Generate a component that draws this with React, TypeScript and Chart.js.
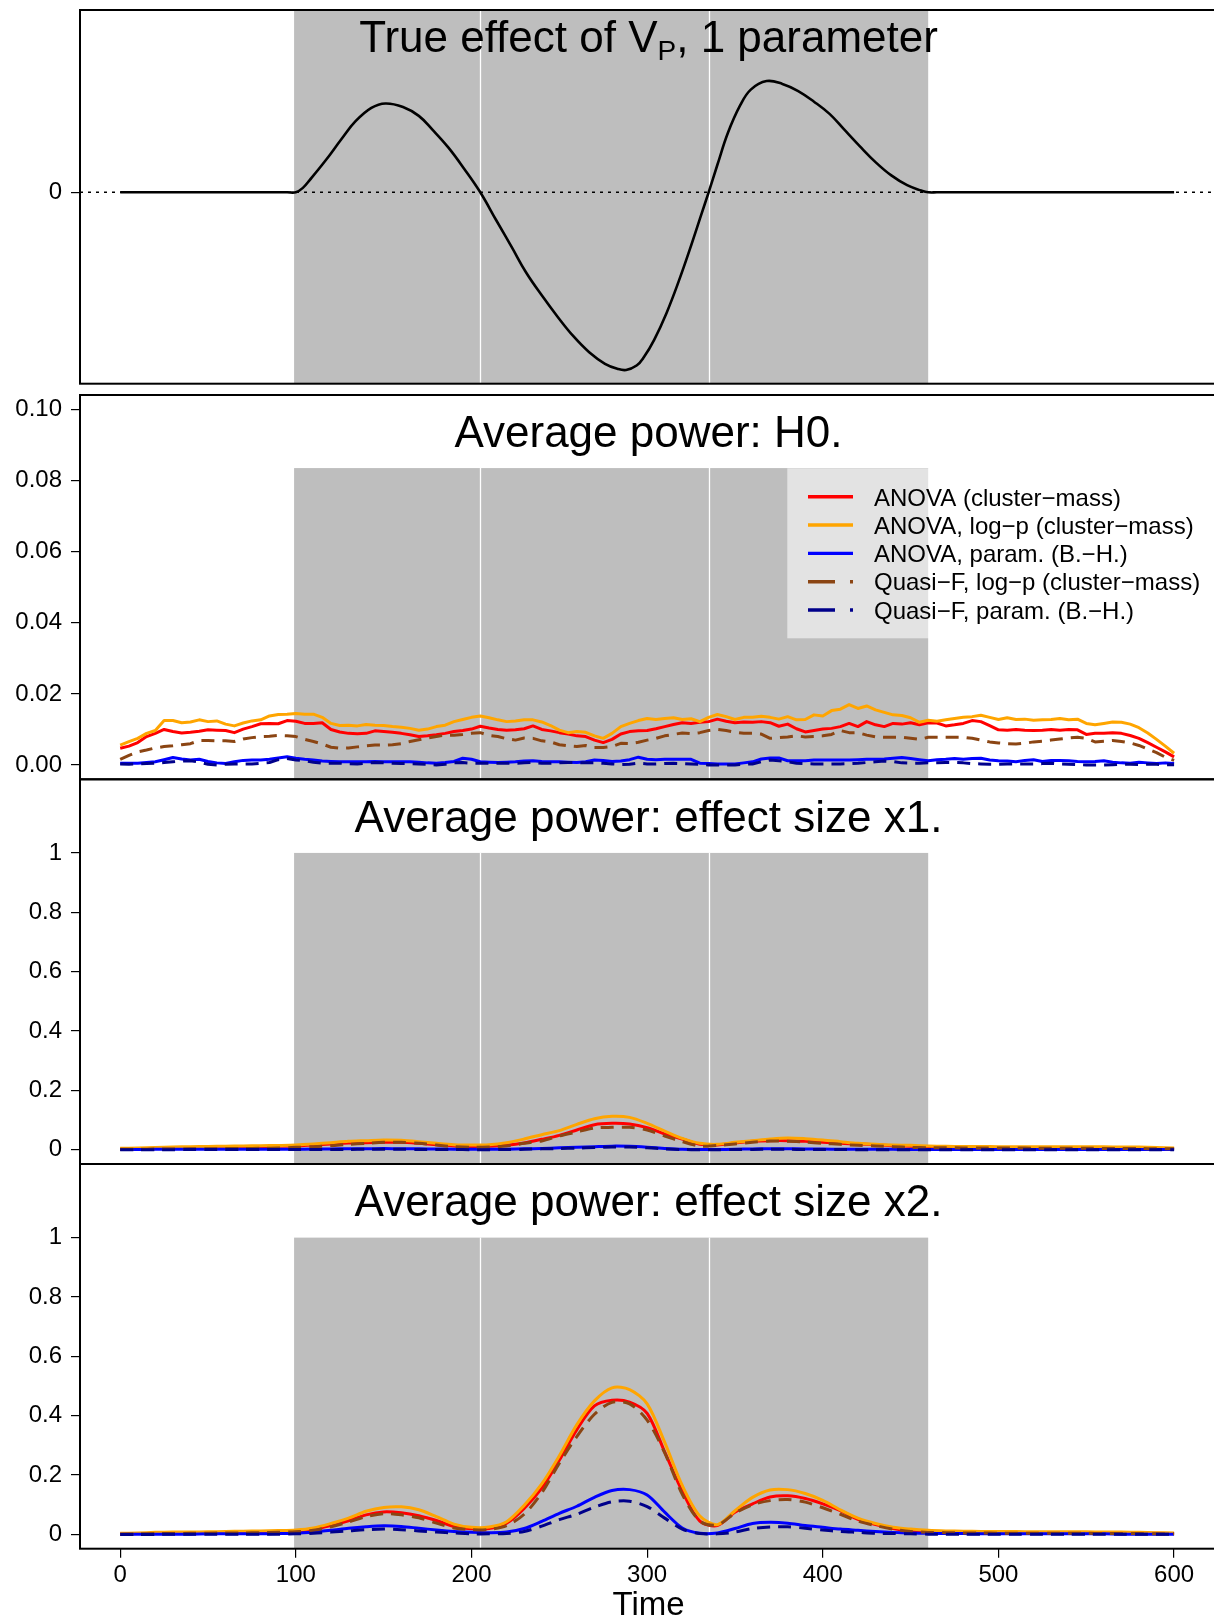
import React, { useEffect, useRef } from "react";
import { Chart, registerables } from "chart.js";

Chart.register(...registerables);

const FONT = "'Liberation Sans', Arial, Helvetica, sans-serif";
const W = 1214;
const H = 1620;

// ---------------- data ----------------
const X_MIN = -22.886;
const X_MAX = 622.72;
const X_TICKS = [0, 100, 200, 300, 400, 500, 600];
const X_TICK_LABELS = ["0", "100", "200", "300", "400", "500", "600"];

const BAND_START = 99;
const BAND_END = 460;
const BAND_DIVIDERS = [205, 335];

const SERIES_NAMES = [
  "ANOVA (cluster\u2212mass)",
  "ANOVA, log\u2212p (cluster\u2212mass)",
  "ANOVA, param. (B.\u2212H.)",
  "Quasi\u2212F, log\u2212p (cluster\u2212mass)",
  "Quasi\u2212F, param. (B.\u2212H.)",
];
const SERIES_COLORS = ["#FF0000", "#FFA500", "#0000FF", "#8B4513", "#00008B"];
const SERIES_DASHED = [false, false, false, true, true];

// True effect (panel 1)
const EFFECT_TICKS = [0];
const EFFECT_TICK_LABELS = ["0"];
const EFFECT_TIME = [0, 50, 95, 100, 104, 108, 117, 126, 134, 143, 151, 161, 170, 178, 187, 196, 205, 214, 223, 231, 240, 249, 258, 267, 276, 283, 288, 294, 298, 304, 311, 318, 324, 331, 335, 340, 346, 353, 359, 368, 377, 386, 395, 404, 412, 421, 430, 439, 448, 456, 460, 465, 520, 600];
const EFFECT_VALUE = [0, 0, 0, 0, 0.025, 0.07, 0.18, 0.30, 0.40, 0.475, 0.50, 0.48, 0.43, 0.35, 0.25, 0.13, 0, -0.156, -0.31, -0.45, -0.58, -0.70, -0.81, -0.90, -0.965, -0.993, -1.0, -0.975, -0.93, -0.83, -0.68, -0.50, -0.33, -0.12, 0, 0.155, 0.335, 0.49, 0.578, 0.626, 0.61, 0.57, 0.51, 0.44, 0.355, 0.26, 0.17, 0.095, 0.04, 0.01, 0, 0, 0, 0];
const EFFECT_ZERO_TIME = [X_MIN, X_MAX];
const EFFECT_ZERO_VALUE = [0, 0];

// H0 (panel 2)
const H0_TICKS = [0, 0.02, 0.04, 0.06, 0.08, 0.1];
const H0_TICK_LABELS = ["0.00", "0.02", "0.04", "0.06", "0.08", "0.10"];
const H0_TIME = [
  0, 5, 10, 15, 20, 25, 30, 35, 40, 45, 50, 55, 60, 65, 70, 75, 80, 85, 90, 95,
  100, 105, 110, 115, 120, 125, 130, 135, 140, 145, 150, 155, 160, 165, 170, 175, 180, 185, 190, 195,
  200, 205, 210, 215, 220, 225, 230, 235, 240, 245, 250, 255, 260, 265, 270, 275, 280, 285, 290, 295,
  300, 305, 310, 315, 320, 325, 330, 335, 340, 345, 350, 355, 360, 365, 370, 375, 380, 385, 390, 395,
  400, 405, 410, 415, 420, 425, 430, 435, 440, 445, 450, 455, 460, 465, 470, 475, 480, 485, 490, 495,
  500, 505, 510, 515, 520, 525, 530, 535, 540, 545, 550, 555, 560, 565, 570, 575, 580, 585, 590, 595,
  600,
];
const H0_ANOVA = [
  .0047, .0053, .0063, .0080, .0089, .0100, .0094, .0090, .0092, .0095,
  .0099, .0098, .0097, .0091, .0101, .0108, .0116, .0117, .0116, .0125,
  .0123, .0117, .0117, .0119, .0100, .0093, .0089, .0088, .0089, .0096,
  .0094, .0092, .0089, .0085, .0080, .0082, .0085, .0089, .0094, .0097,
  .0101, .0109, .0104, .0100, .0098, .0099, .0102, .0110, .0100, .0096,
  .0091, .0087, .0082, .0080, .0070, .0063, .0072, .0087, .0094, .0096,
  .0097, .0102, .0108, .0114, .0119, .0117, .0120, .0122, .0129, .0123,
  .0119, .0121, .0120, .0122, .0119, .0109, .0115, .0102, .0093, .0097,
  .0101, .0103, .0108, .0117, .0108, .0122, .0113, .0108, .0117, .0115,
  .0119, .0113, .0119, .0118, .0110, .0113, .0117, .0125, .0122, .0111,
  .0099, .0098, .0100, .0098, .0097, .0098, .0100, .0098, .0100, .0099,
  .0086, .0089, .0089, .0091, .0089, .0083, .0075, .0063, .0050, .0037,
  .0023,
];
const H0_ANOVA_LOGP = [
  .0056, .0066, .0075, .0089, .0097, .0125, .0125, .0119, .0121, .0127,
  .0122, .0124, .0115, .0110, .0118, .0124, .0127, .0138, .0142, .0143,
  .0145, .0143, .0143, .0134, .0117, .0111, .0112, .0110, .0114, .0112,
  .0111, .0108, .0106, .0103, .0098, .0101, .0108, .0112, .0122, .0128,
  .0134, .0138, .0133, .0127, .0122, .0124, .0127, .0127, .0121, .0111,
  .0098, .0091, .0094, .0092, .0082, .0075, .0089, .0108, .0117, .0125,
  .0131, .0128, .0131, .0133, .0128, .0130, .0122, .0134, .0142, .0136,
  .0128, .0134, .0134, .0137, .0134, .0129, .0136, .0127, .0128, .0141,
  .0138, .0153, .0157, .0170, .0159, .0166, .0155, .0148, .0141, .0139,
  .0133, .0120, .0126, .0123, .0127, .0131, .0134, .0136, .0140, .0134,
  .0128, .0133, .0128, .0129, .0126, .0127, .0128, .0131, .0127, .0129,
  .0117, .0113, .0117, .0121, .0120, .0115, .0105, .0090, .0072, .0053,
  .0033,
];
const H0_ANOVA_PARAM = [
  .0005, .0005, .0005, .0007, .0009, .0015, .0021, .0017, .0014, .0016,
  .0010, .0006, .0004, .0009, .0013, .0014, .0014, .0016, .0020, .0023,
  .0019, .0016, .0014, .0011, .0010, .0009, .0009, .0009, .0009, .0010,
  .0009, .0009, .0009, .0009, .0008, .0006, .0005, .0007, .0010, .0019,
  .0016, .0009, .0008, .0007, .0008, .0009, .0011, .0012, .0010, .0009,
  .0009, .0008, .0007, .0009, .0014, .0013, .0010, .0011, .0015, .0022,
  .0016, .0015, .0016, .0016, .0016, .0016, .0005, .0004, .0003, .0003,
  .0003, .0006, .0009, .0017, .0020, .0020, .0012, .0012, .0012, .0014,
  .0014, .0014, .0014, .0014, .0015, .0016, .0016, .0017, .0019, .0021,
  .0018, .0015, .0012, .0015, .0016, .0018, .0016, .0018, .0019, .0014,
  .0012, .0011, .0009, .0013, .0015, .0010, .0013, .0013, .0012, .0010,
  .0009, .0010, .0012, .0008, .0006, .0005, .0008, .0006, .0004, .0006,
  .0004,
];
const H0_QUASI_LOGP = [
  .0016, .0027, .0037, .0042, .0048, .0052, .0054, .0057, .0060, .0069,
  .0069, .0068, .0068, .0066, .0073, .0077, .0080, .0081, .0083, .0082,
  .0080, .0072, .0066, .0059, .0050, .0047, .0048, .0051, .0054, .0056,
  .0056, .0057, .0060, .0066, .0071, .0076, .0080, .0084, .0084, .0086,
  .0089, .0091, .0083, .0080, .0074, .0070, .0076, .0075, .0068, .0065,
  .0057, .0054, .0052, .0055, .0049, .0049, .0052, .0061, .0060, .0064,
  .0070, .0075, .0082, .0086, .0090, .0088, .0091, .0097, .0100, .0097,
  .0092, .0089, .0089, .0087, .0075, .0077, .0079, .0082, .0079, .0080,
  .0082, .0086, .0097, .0091, .0091, .0084, .0079, .0078, .0078, .0078,
  .0075, .0072, .0078, .0078, .0078, .0078, .0078, .0075, .0070, .0065,
  .0062, .0060, .0059, .0061, .0065, .0067, .0070, .0073, .0076, .0078,
  .0075, .0065, .0067, .0069, .0066, .0062, .0055, .0045, .0035, .0022,
  .0013,
];
const H0_QUASI_PARAM = [
  .0003, .0002, .0003, .0004, .0005, .0007, .0009, .0011, .0012, .0008,
  .0002, .0000, .0002, .0003, .0003, .0003, .0005, .0007, .0015, .0018,
  .0014, .0012, .0008, .0005, .0005, .0005, .0004, .0003, .0005, .0007,
  .0006, .0005, .0004, .0004, .0003, .0002, .0000, .0002, .0006, .0007,
  .0005, .0005, .0005, .0005, .0005, .0005, .0006, .0007, .0005, .0005,
  .0006, .0007, .0007, .0006, .0006, .0005, .0003, .0001, .0002, .0005,
  .0003, .0003, .0004, .0005, .0004, .0003, .0002, .0000, .0000, .0000,
  .0000, .0002, .0003, .0009, .0014, .0012, .0009, .0005, .0004, .0003,
  .0003, .0003, .0003, .0004, .0005, .0007, .0009, .0011, .0010, .0006,
  .0005, .0005, .0006, .0006, .0007, .0007, .0006, .0004, .0003, .0002,
  .0002, .0003, .0003, .0003, .0003, .0004, .0005, .0003, .0002, .0001,
  .0000, .0000, .0000, .0001, .0002, .0002, .0001, .0002, .0002, .0001,
  .0001,
];

// Power panels (3 & 4)
const POWER_TICKS = [0, 0.2, 0.4, 0.6, 0.8, 1];
const POWER_TICK_LABELS = ["0", "0.2", "0.4", "0.6", "0.8", "1"];
const POWER_TIME = [
  0, 10, 20, 30, 40, 50, 60, 70, 80, 90,
  100, 110, 120, 130, 140, 150, 160, 170, 180, 190,
  200, 210, 220, 230, 240, 250, 260, 270, 280, 290,
  300, 310, 320, 330, 340, 350, 360, 370, 380, 390,
  400, 410, 420, 430, 440, 450, 460, 470, 480, 490,
  500, 510, 520, 530, 540, 550, 560, 570, 580, 590,
  600,
];
const X1_ANOVA = [
  .0025, .0035, .0050, .0060, .0070, .0080, .0090, .0095, .0105, .0115,
  .0126, .0160, .0194, .0227, .0239, .0250, .0250, .0216, .0171, .0126,
  .0104, .0115, .0149, .0227, .0351, .0486, .0665, .0845, .0890, .0867,
  .0744, .0531, .0362, .0182, .0160, .0227, .0283, .0306, .0306, .0283,
  .0250, .0216, .0194, .0171, .0137, .0115, .0093, .0088, .0082, .0078,
  .0076, .0074, .0072, .0070, .0068, .0066, .0062, .0058, .0052, .0045,
  .0035,
];
const X1_ANOVA_LOGP = [
  .0048, .0060, .0080, .0095, .0105, .0110, .0120, .0128, .0135, .0145,
  .0160, .0194, .0239, .0283, .0306, .0329, .0317, .0272, .0216, .0171,
  .0160, .0171, .0239, .0362, .0508, .0643, .0856, .1047, .1126, .1090,
  .0890, .0630, .0384, .0216, .0182, .0250, .0306, .0362, .0396, .0373,
  .0329, .0272, .0216, .0182, .0160, .0149, .0126, .0115, .0110, .0108,
  .0105, .0105, .0104, .0104, .0103, .0100, .0098, .0095, .0090, .0080,
  .0060,
];
const X1_ANOVA_PARAM = [
  .0012, .0012, .0013, .0013, .0014, .0014, .0015, .0015, .0016, .0016,
  .0018, .0022, .0028, .0033, .0036, .0038, .0037, .0032, .0025, .0018,
  .0014, .0015, .0020, .0030, .0045, .0065, .0085, .0105, .0122, .0115,
  .0085, .0045, .0015, .0005, .0008, .0015, .0028, .0037, .0035, .0028,
  .0022, .0018, .0016, .0014, .0013, .0012, .0012, .0011, .0011, .0010,
  .0010, .0010, .0010, .0009, .0009, .0009, .0009, .0008, .0008, .0008,
  .0008,
];
const X1_QUASI_LOGP = [
  .0014, .0018, .0022, .0026, .0030, .0034, .0038, .0042, .0050, .0058,
  .0081, .0104, .0137, .0182, .0216, .0250, .0250, .0216, .0160, .0104,
  .0081, .0093, .0126, .0216, .0295, .0463, .0598, .0733, .0755, .0755,
  .0665, .0463, .0272, .0126, .0149, .0194, .0250, .0295, .0283, .0261,
  .0216, .0182, .0149, .0126, .0104, .0081, .0070, .0066, .0062, .0060,
  .0058, .0056, .0054, .0052, .0050, .0048, .0046, .0043, .0040, .0035,
  .0030,
];
const X1_QUASI_PARAM = [
  .0003, .0003, .0004, .0004, .0005, .0005, .0005, .0006, .0006, .0006,
  .0007, .0008, .0010, .0012, .0014, .0015, .0014, .0012, .0009, .0006,
  .0004, .0004, .0008, .0015, .0030, .0042, .0055, .0075, .0095, .0090,
  .0065, .0030, .0008, .0002, .0003, .0006, .0010, .0015, .0015, .0010,
  .0007, .0005, .0004, .0004, .0004, .0003, .0003, .0003, .0003, .0003,
  .0003, .0003, .0003, .0003, .0003, .0003, .0002, .0002, .0002, .0002,
  .0002,
];
const X2_ANOVA = [
  .002, .003, .004, .005, .005, .006, .006, .007, .008, .009,
  .011, .017, .030, .046, .066, .076, .073, .063, .047, .027,
  .019, .020, .038, .088, .156, .250, .353, .433, .452, .446,
  .408, .278, .145, .045, .030, .075, .103, .126, .130, .121,
  .103, .080, .051, .033, .020, .012, .009, .008, .007, .007,
  .006, .006, .006, .006, .006, .005, .005, .005, .004, .004,
  .003,
];
const X2_ANOVA_LOGP = [
  .004, .005, .007, .008, .008, .009, .010, .011, .012, .013,
  .015, .022, .037, .055, .078, .091, .093, .083, .060, .035,
  .024, .025, .043, .098, .170, .265, .370, .450, .494, .488,
  .440, .310, .165, .062, .033, .080, .125, .150, .151, .138,
  .115, .083, .055, .037, .024, .018, .014, .012, .011, .010,
  .010, .010, .009, .009, .009, .009, .008, .008, .007, .006,
  .005,
];
const X2_ANOVA_PARAM = [
  .001, .001, .001, .001, .001, .002, .002, .002, .002, .003,
  .004, .008, .014, .021, .026, .029, .027, .021, .015, .010,
  .007, .006, .008, .020, .044, .071, .095, .125, .148, .151,
  .133, .075, .022, .004, .005, .020, .037, .041, .038, .030,
  .024, .018, .014, .010, .007, .005, .004, .003, .003, .002,
  .002, .002, .002, .002, .002, .002, .002, .001, .001, .001,
  .001,
];
const X2_QUASI_LOGP = [
  .001, .002, .003, .003, .004, .004, .005, .005, .006, .007,
  .009, .014, .026, .042, .060, .070, .066, .056, .038, .022,
  .016, .017, .030, .068, .140, .240, .330, .405, .445, .440,
  .385, .275, .135, .045, .032, .072, .100, .114, .118, .109,
  .090, .068, .045, .030, .018, .010, .007, .006, .005, .005,
  .004, .004, .004, .004, .004, .004, .003, .003, .003, .002,
  .002,
];
const X2_QUASI_PARAM = [
  .000, .000, .000, .001, .001, .001, .001, .001, .001, .001,
  .002, .004, .008, .012, .016, .018, .016, .012, .008, .005,
  .002, .002, .003, .010, .028, .050, .068, .092, .110, .112,
  .094, .055, .018, .003, .002, .008, .020, .025, .026, .021,
  .015, .010, .007, .004, .003, .002, .001, .001, .001, .001,
  .001, .001, .001, .001, .001, .001, .001, .001, .001, .001,
  .001,
];

// ---------------- layout / style ----------------
const TITLE_CX = 648.5;
const TICK_FONT = 24;

type Seg = { text: string; size: number; dy: number };
type Series = { name: string; time: number[]; values: number[]; color: string; dashed: boolean; width: number; dash?: number[]; curve: "none" | "cubic"; tension?: number; order: number };
type PanelSpec = {
  top: number;
  bottom: number;
  yMin: number;
  yMax: number;
  yTicks: number[];
  yLabels: string[];
  series: Series[];
  bandTop: number | null;
  title: Seg[];
  titleBaseline: number;
  showX: boolean;
  legend: boolean;
};

function methodSeries(time: number[], values: number[][], curve: "none" | "cubic"): Series[] {
  return values.map((v, i) => ({
    name: SERIES_NAMES[i],
    time,
    values: v,
    color: SERIES_COLORS[i],
    dashed: SERIES_DASHED[i],
    width: 3,
    curve,
    order: 10 - i,
  }));
}

const PANELS: PanelSpec[] = [
  {
    top: 10,
    bottom: 383.7,
    yMin: -1.0771,
    yMax: 1.0259,
    yTicks: EFFECT_TICKS,
    yLabels: EFFECT_TICK_LABELS,
    series: [
      { name: "zero", time: EFFECT_ZERO_TIME, values: EFFECT_ZERO_VALUE, color: "#000", dashed: true, dash: [3, 5], width: 1.4, curve: "none", order: 1 },
      { name: "True effect", time: EFFECT_TIME, values: EFFECT_VALUE, color: "#000", dashed: false, width: 2.6, curve: "cubic", tension: 0.4, order: 2 },
    ],
    bandTop: null,
    title: [
      { text: "True effect of V", size: 44, dy: 0 },
      { text: "P", size: 28, dy: 8 },
      { text: ", 1 parameter", size: 44, dy: 0 },
    ],
    titleBaseline: 52,
    showX: false,
    legend: false,
  },
  {
    top: 395,
    bottom: 779.3,
    yMin: -0.00402,
    yMax: 0.10405,
    yTicks: H0_TICKS,
    yLabels: H0_TICK_LABELS,
    series: methodSeries(H0_TIME, [H0_ANOVA, H0_ANOVA_LOGP, H0_ANOVA_PARAM, H0_QUASI_LOGP, H0_QUASI_PARAM], "none"),
    bandTop: 0.0835,
    title: [{ text: "Average power: H0.", size: 44, dy: 0 }],
    titleBaseline: 446.5,
    showX: false,
    legend: true,
  },
  {
    top: 779.3,
    bottom: 1164,
    yMin: -0.048,
    yMax: 1.248,
    yTicks: POWER_TICKS,
    yLabels: POWER_TICK_LABELS,
    series: methodSeries(POWER_TIME, [X1_ANOVA, X1_ANOVA_LOGP, X1_ANOVA_PARAM, X1_QUASI_LOGP, X1_QUASI_PARAM], "cubic"),
    bandTop: 1,
    title: [{ text: "Average power: effect size x1.", size: 44, dy: 0 }],
    titleBaseline: 831.5,
    showX: false,
    legend: false,
  },
  {
    top: 1164,
    bottom: 1548.7,
    yMin: -0.048,
    yMax: 1.248,
    yTicks: POWER_TICKS,
    yLabels: POWER_TICK_LABELS,
    series: methodSeries(POWER_TIME, [X2_ANOVA, X2_ANOVA_LOGP, X2_ANOVA_PARAM, X2_QUASI_LOGP, X2_QUASI_PARAM], "cubic"),
    bandTop: 1,
    title: [{ text: "Average power: effect size x2.", size: 44, dy: 0 }],
    titleBaseline: 1216,
    showX: true,
    legend: false,
  },
];

// ---------------- plugins ----------------
function bandPlugin(p: PanelSpec) {
  return {
    id: "bands",
    beforeDatasetsDraw(chart: any) {
      const { ctx, chartArea: a, scales } = chart;
      const x = scales.x;
      const y = scales.y;
      const top = p.bandTop === null ? a.top : y.getPixelForValue(p.bandTop);
      const x0 = x.getPixelForValue(BAND_START);
      const x1 = x.getPixelForValue(BAND_END);
      ctx.save();
      ctx.fillStyle = "#BEBEBE";
      ctx.fillRect(x0, top, x1 - x0, a.bottom - top);
      ctx.strokeStyle = "#FFFFFF";
      ctx.lineWidth = 1.3;
      BAND_DIVIDERS.forEach((d) => {
        const px = Math.round(x.getPixelForValue(d)) + 0.5;
        ctx.beginPath();
        ctx.moveTo(px, top);
        ctx.lineTo(px, a.bottom);
        ctx.stroke();
      });
      ctx.restore();
    },
  };
}

function decorPlugin(p: PanelSpec) {
  return {
    id: "decor",
    afterDatasetsDraw(chart: any) {
      const { ctx } = chart;
      if (p.legend) {
        ctx.save();
        ctx.fillStyle = "rgba(255,255,255,0.57)";
        ctx.fillRect(787.3, 468.3, W - 787.3, 170);
        SERIES_NAMES.forEach((name, i) => {
          const yy = 496.7 + i * 28.33;
          ctx.beginPath();
          ctx.strokeStyle = SERIES_COLORS[i];
          ctx.lineWidth = 3.4;
          ctx.lineCap = "butt";
          ctx.setLineDash(SERIES_DASHED[i] ? [27, 15] : []);
          ctx.moveTo(808, yy);
          ctx.lineTo(853, yy);
          ctx.stroke();
          ctx.setLineDash([]);
          ctx.fillStyle = "#000";
          ctx.font = `24px ${FONT}`;
          ctx.textAlign = "left";
          ctx.textBaseline = "alphabetic";
          ctx.fillText(name, 874, yy + 8.8);
        });
        ctx.restore();
      }
    },
    afterDraw(chart: any) {
      const { ctx, chartArea: a } = chart;
      ctx.save();
      // frame
      ctx.strokeStyle = "#000";
      ctx.lineWidth = 2;
      ctx.strokeRect(a.left, a.top, a.right - a.left + 20, a.bottom - a.top);
      // title
      ctx.fillStyle = "#000";
      ctx.textBaseline = "alphabetic";
      ctx.textAlign = "left";
      let total = 0;
      const widths = p.title.map((s) => {
        ctx.font = `${s.size}px ${FONT}`;
        const w = ctx.measureText(s.text).width;
        total += w;
        return w;
      });
      let xx = TITLE_CX - total / 2;
      p.title.forEach((s, i) => {
        ctx.font = `${s.size}px ${FONT}`;
        ctx.fillText(s.text, xx, p.titleBaseline + s.dy);
        xx += widths[i];
      });
      if (p.showX) {
        ctx.font = `33px ${FONT}`;
        ctx.textAlign = "center";
        ctx.fillText("Time", TITLE_CX, 1615);
      }
      ctx.restore();
    },
  };
}

// ---------------- chart config ----------------
function buildConfig(p: PanelSpec): any {
  const datasets = p.series.map((s) => ({
    label: s.name,
    data: s.time.map((t, k) => ({ x: t, y: s.values[k] })),
    borderColor: s.color,
    backgroundColor: s.color,
    borderWidth: s.width,
    borderDash: s.dash ? s.dash : s.dashed ? [13, 8] : [],
    borderCapStyle: "butt",
    borderJoinStyle: "round",
    pointRadius: 0,
    fill: false,
    tension: s.curve === "cubic" ? (s.tension !== undefined ? s.tension : 0.3) : 0,
    cubicInterpolationMode: "default",
    order: s.order,
  }));

  const tickFont = { family: FONT, size: TICK_FONT };

  return {
    type: "line",
    data: { datasets },
    options: {
      responsive: false,
      animation: false,
      events: [],
      layout: {
        autoPadding: false,
        padding: { top: p.top, bottom: p.showX ? 0 : H - p.bottom, left: 0, right: 0 },
      },
      plugins: {
        legend: { display: false },
        tooltip: { enabled: false },
        title: { display: false },
      },
      scales: {
        x: {
          type: "linear",
          min: X_MIN,
          max: X_MAX,
          display: p.showX,
          afterBuildTicks: (ax: any) => {
            ax.ticks = X_TICKS.map((v) => ({ value: v }));
          },
          afterFit: (ax: any) => {
            if (p.showX) {
              ax.height = H - p.bottom;
            }
            ax.paddingLeft = 0;
            ax.paddingRight = 0;
          },
          grid: { display: true, drawOnChartArea: false, drawTicks: true, tickLength: 9, color: "#000", lineWidth: 1.2 },
          border: { display: false },
          ticks: {
            autoSkip: false,
            maxRotation: 0,
            minRotation: 0,
            padding: 3,
            color: "#000",
            font: tickFont,
            callback: (_v: any, i: number) => X_TICK_LABELS[i],
          },
        },
        y: {
          type: "linear",
          min: p.yMin,
          max: p.yMax,
          afterBuildTicks: (ax: any) => {
            ax.ticks = p.yTicks.map((v) => ({ value: v }));
          },
          afterFit: (ax: any) => {
            ax.width = 80;
            ax.paddingTop = 0;
            ax.paddingBottom = 0;
          },
          grid: { display: true, drawOnChartArea: false, drawTicks: true, tickLength: 9, color: "#000", lineWidth: 1.2 },
          border: { display: false },
          ticks: {
            autoSkip: false,
            padding: 9,
            color: "#000",
            font: tickFont,
            callback: (_v: any, i: number) => p.yLabels[i],
          },
        },
      },
    },
    plugins: [bandPlugin(p), decorPlugin(p)],
  };
}

export default function App() {
  const canvasRefs = useRef<(HTMLCanvasElement | null)[]>([]);

  useEffect(() => {
    document.body.style.margin = "0";
    document.body.style.overflow = "hidden";
    Chart.defaults.font.family = FONT;
    Chart.defaults.color = "#000";
    const charts = PANELS.map((p, i) => new Chart(canvasRefs.current[i] as HTMLCanvasElement, buildConfig(p)));
    return () => charts.forEach((c) => c.destroy());
  }, []);

  return (
    <div style={{ position: "fixed", left: 0, top: 0, width: W, height: H, overflow: "hidden", background: "#fff" }}>
      {PANELS.map((_, i) => (
        <canvas
          key={i}
          ref={(el) => {
            canvasRefs.current[i] = el;
          }}
          width={W}
          height={H}
          style={{ position: "absolute", left: 0, top: 0, width: W, height: H }}
        />
      ))}
    </div>
  );
}
